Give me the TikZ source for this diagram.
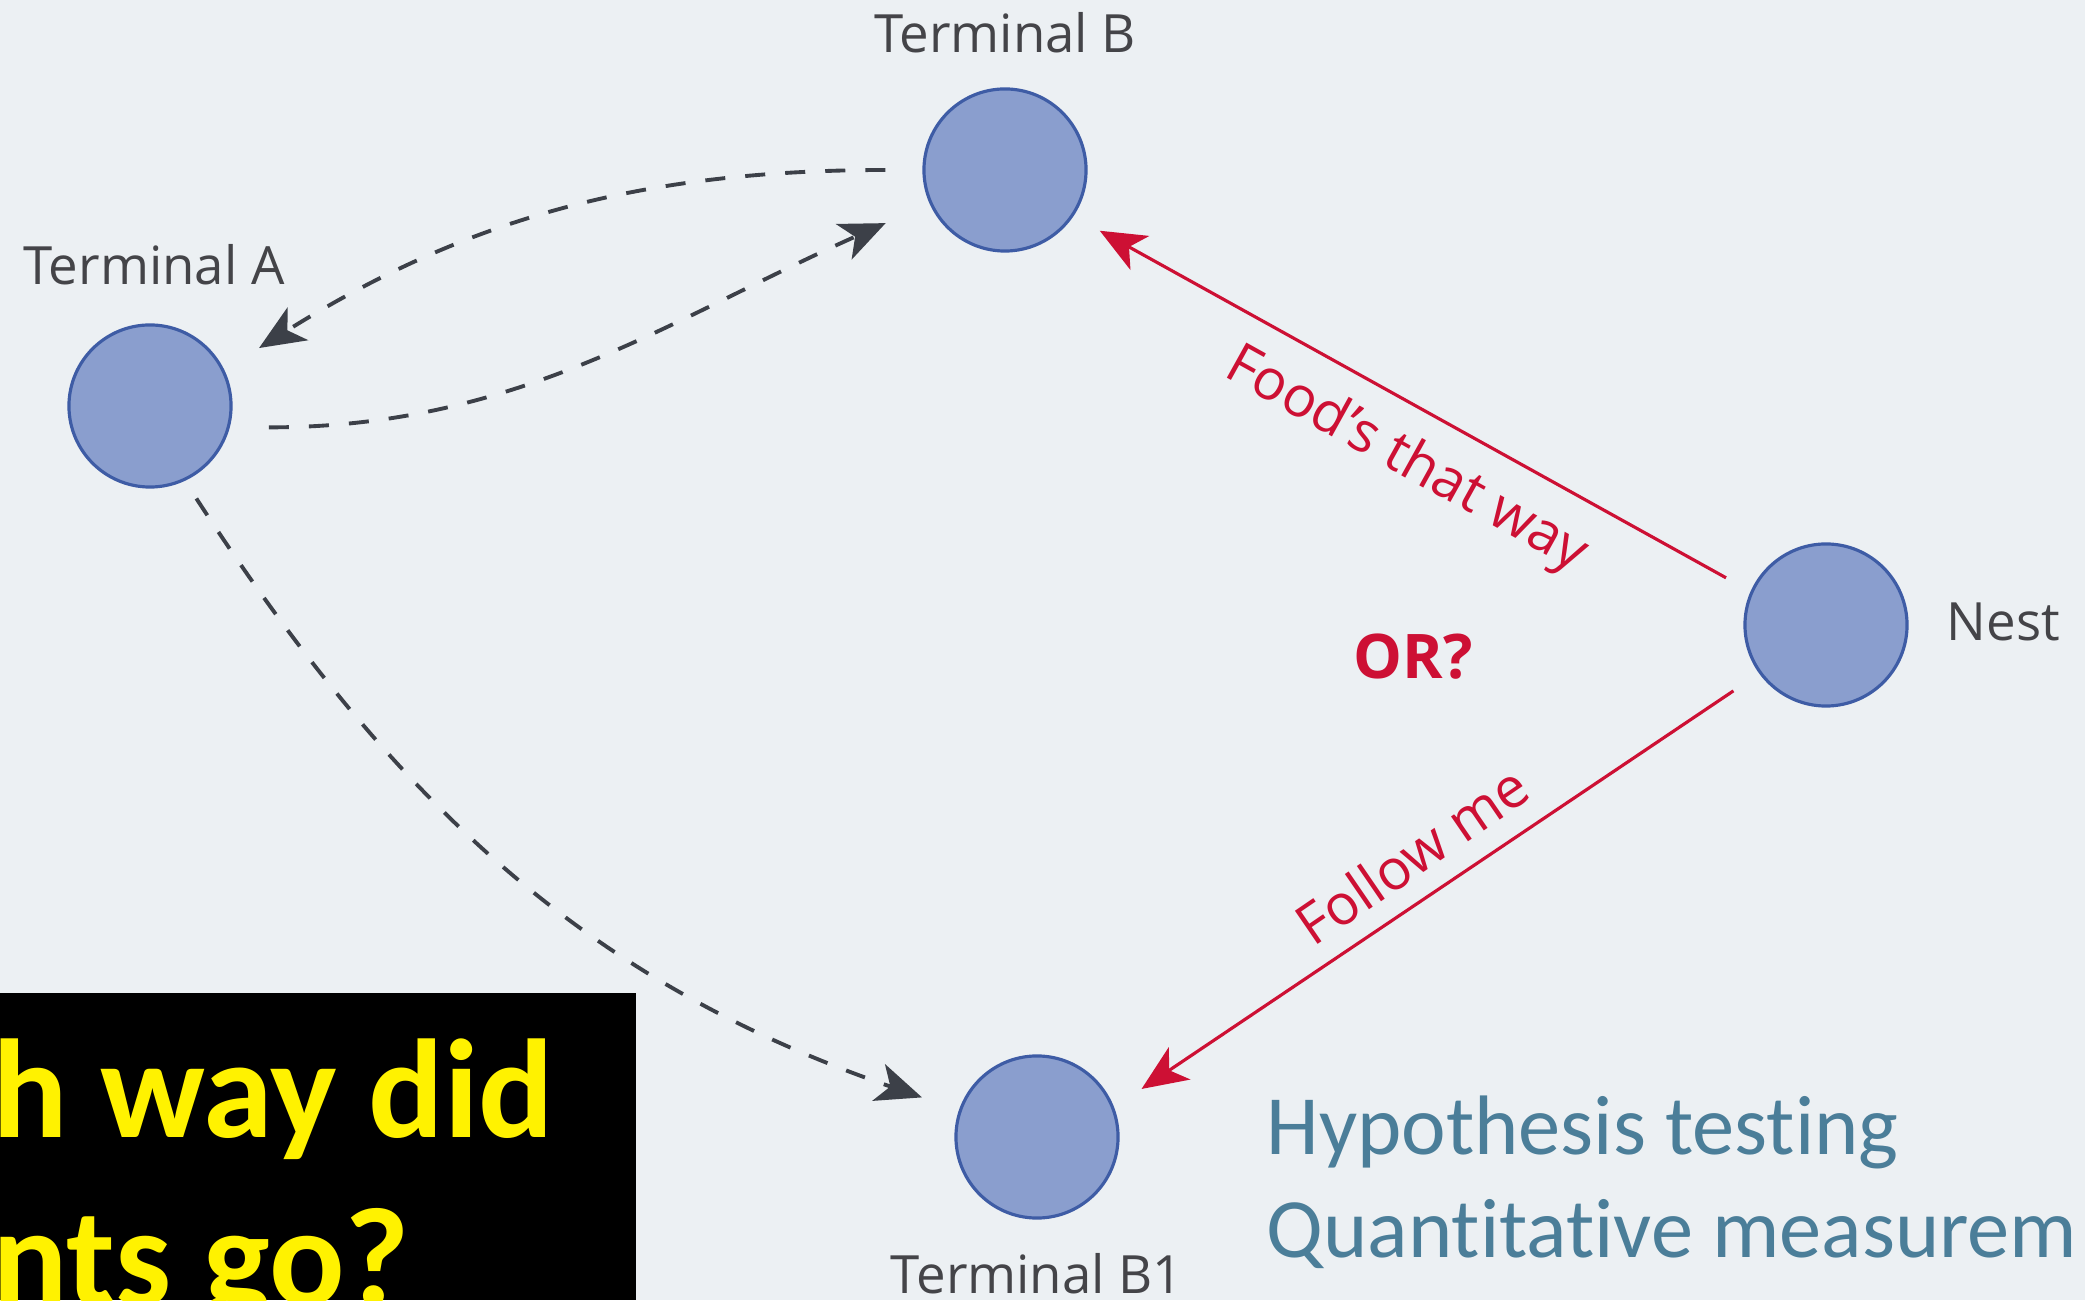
\documentclass[tikz,border=0pt]{standalone}
\usepackage{fontspec}
\setmainfont{Open Sans}
\newfontfamily\slidefont[Ligatures=NoCommon]{Carlito}
\usetikzlibrary{arrows.meta}
\definecolor{bgc}{RGB}{236,240,243}
\definecolor{dotfill}{RGB}{138,158,206}
\definecolor{dotline}{RGB}{62,92,165}
\definecolor{antred}{RGB}{205,16,52}
\definecolor{pathgray}{RGB}{60,64,72}
\definecolor{labelgray}{RGB}{68,68,72}
\definecolor{noteblue}{RGB}{75,126,153}

\begin{document}
\begin{tikzpicture}[x=0.01cm, y=0.01cm,
  site/.style={circle, fill=dotfill, draw=dotline, line width=0.9pt, minimum size=1.62cm, inner sep=0pt},
  sitename/.style={anchor=base, inner sep=0pt, text=labelgray, font=\fontsize{15pt}{18pt}\selectfont},
  trail/.style={draw=pathgray, line width=1.1pt, dash pattern=on 5.7pt off 5.7pt, -{Stealth[length=13pt, width=11pt, inset=3.5pt]}},
  signal/.style={draw=antred, line width=0.9pt, -{Stealth[length=13pt, width=11pt, inset=3.5pt]}},
  signaltext/.style={inner sep=0pt, text=antred, font=\fontsize{16pt}{19pt}\selectfont},
  note/.style={anchor=base west, inner sep=0pt, text=noteblue, font=\slidefont\fontsize{24pt}{29pt}\selectfont},
  question/.style={anchor=base west, inner sep=0pt, text=yellow, font=\slidefont\bfseries\fontsize{40pt}{48pt}\selectfont}]
\clip (0,0) rectangle (2085,1300);
\fill[bgc] (0,0) rectangle (2085,1300);

\node[site] (A) at (150,894) {};
\node[site] (B) at (1005,1130) {};
\node[site] (nest) at (1826,675) {};
\node[site] (B1) at (1037,163) {};

\node[sitename] (Aname) at (154,1015) {Terminal A};
\node[sitename] (Bname) at (1005,1247) {Terminal B};
\node[sitename] (B1name) at (1037,7) {Terminal B1};
\node[sitename, anchor=base west] (nestname) at (1946,659) {Nest};

\draw[trail, shorten <=0.37cm, shorten >=0.41cm] (B.180) to[out=180, in=32] (A.26);
\draw[trail, shorten <=0.39cm, shorten >=0.48cm] (A.-15) to[out=0, in=204] (B.204);
\draw[trail, shorten <=0.21cm, shorten >=0.39cm] (A.-65) to[out=-57, in=161] (B1.161);

\draw[signal, shorten <=0.28cm, shorten >=0.30cm] (nest.156.5) -- (B.-34.4);
\draw[signal, shorten <=0.31cm, shorten >=0.33cm] (nest.216) -- (B1.21.5);

\node[signaltext, rotate=-29] (foodtext) at (1406,839) {Food’s that way};
\node[signaltext, rotate=34.4] (followtext) at (1412,445) {Follow me};
\node[signaltext, anchor=base, font=\bfseries\fontsize{17.5pt}{21pt}\selectfont] (ortext) at (1413,621) {OR?};

\node[note] (hyp) at (1266,145) {Hypothesis testing};
\node[note] (quant) at (1266,43) {Quantitative measurem};

\fill[black] (0,0) rectangle (636,307);
\node[question] (ask1) at (-8,162) {h way did};
\node[question] (ask2) at (-8,-5) {nts go?};
\end{tikzpicture}
\end{document}
